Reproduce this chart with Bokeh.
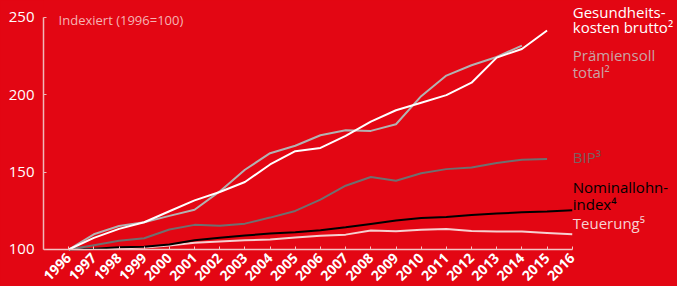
from bokeh.plotting import figure
from bokeh.models import Range1d, Label, FixedTicker
from bokeh.embed import file_html
from bokeh.resources import INLINE

RED = "#e30613"

years = list(range(1996, 2017))
tick_labels = [str(y) for y in years]

gesundheit = [100, 107.5, 113.3, 117.6, 124.7, 131.7, 137.1, 143.6, 154.9, 163.5,
              165.6, 173.4, 182.6, 189.9, 194.8, 199.7, 207.7, 223.9, 229.5, 241.4]
praemien = [100, 109.8, 115.2, 117.6, 121.7, 125.7, 137.5, 151.5, 162.2, 167.0,
            173.8, 177.0, 176.6, 180.9, 199.0, 212.3, 219.0, 224.3, 231.7]
bip = [100, 102.8, 105.6, 107.3, 112.9, 115.9, 115.4, 116.7, 120.6, 124.9,
       132.2, 141.2, 146.8, 144.4, 149.2, 151.9, 153.0, 155.9, 158.0, 158.4]
lohn = [100, 100.4, 101.4, 101.8, 103.2, 106.0, 107.6, 109.0, 110.3, 111.1,
        112.4, 114.3, 116.5, 118.7, 120.4, 121.0, 122.3, 123.2, 124.0, 124.5, 125.3]
teuerung = [100, 100.3, 100.6, 101.3, 102.6, 104.3, 105.2, 106.0, 106.4, 107.7,
            108.8, 109.6, 112.2, 111.8, 112.7, 113.3, 112.0, 111.6, 111.6, 110.7, 109.8]

y_ticks = [100, 150, 200, 250]

p = figure(width=677, height=286, output_backend="svg", toolbar_location=None,
           x_range=Range1d(1995, 2020.18), y_range=Range1d(76.1, 260.8),
           min_border_left=43, min_border_right=0, min_border_top=0, min_border_bottom=0,
           background_fill_color=RED, border_fill_color=RED, outline_line_color=None)
p.grid.visible = False

FONT = "Open Sans"

# axes
p.xaxis.fixed_location = 100
p.xaxis.ticker = FixedTicker(ticks=years)
p.xaxis.bounds = (1995, 2016)
p.xaxis.major_label_overrides = {y: s for y, s in zip(years, tick_labels)}
p.xaxis.major_label_orientation = 0.7854
p.xaxis.axis_line_color = "#f3c4c4"
p.xaxis.axis_line_width = 1.5
p.xaxis.major_tick_line_color = "#f3c4c4"
p.xaxis.major_tick_in = 3
p.xaxis.major_tick_out = 0
p.xaxis.minor_tick_line_color = None
p.xaxis.major_label_text_color = "white"
p.xaxis.major_label_text_font = FONT
p.xaxis.major_label_text_font_size = "14px"
p.xaxis.major_label_text_font_style = "bold"
p.xaxis.major_label_standoff = 6

p.yaxis.ticker = FixedTicker(ticks=y_ticks)
p.yaxis.bounds = (100, 250)
p.yaxis.axis_line_color = "#f0b8b8"
p.yaxis.axis_line_width = 1.5
p.yaxis.major_tick_line_color = "#f0b8b8"
p.yaxis.major_tick_in = 3
p.yaxis.major_tick_out = 0
p.yaxis.minor_tick_line_color = None
p.yaxis.major_label_text_color = "white"
p.yaxis.major_label_text_font = FONT
p.yaxis.major_label_text_font_size = "15px"
p.yaxis.major_label_standoff = 9

# lines
p.line(years[:len(teuerung)], teuerung, line_color="#f6d0d0", line_width=2)
p.line(years[:len(lohn)], lohn, line_color="black", line_width=2)
p.line(years[:len(bip)], bip, line_color="#6f6f6f", line_width=2)
p.line(years[:len(praemien)], praemien, line_color="#b2b2b2", line_width=2)
p.line(years[:len(gesundheit)], gesundheit, line_color="white", line_width=2)

# annotation texts
def lab(x, y, text, color, size="15px"):
    p.add_layout(Label(x=x, y=y, text=text, text_color=color, text_font=FONT,
                       text_font_size=size, text_baseline="alphabetic", text_align="left"))

lab(1995.6, 247.9, "Indexiert (1996=100)", "#f5b3b3", "13px")
lx = 2016.02
lab(lx, 253.4, "Gesundheits-", "white")
lab(lx, 243.5, "kosten brutto²", "white")
lab(lx, 225.3, "Prämiensoll", "#c9a3a5")
lab(lx, 214.5, "total²", "#c9a3a5")
lab(lx, 159.6, "BIP³", "#7a6060")
lab(lx, 140.2, "Nominallohn-", "black")
lab(lx, 129.5, "index⁴", "black")
lab(lx, 117.4, "Teuerung⁵", "#f7d2d2")

html = file_html(p, INLINE)
html = html.replace("</head>", "<style>body{background-color:%s;}</style></head>" % RED, 1)
open("out.html", "w").write(html)
